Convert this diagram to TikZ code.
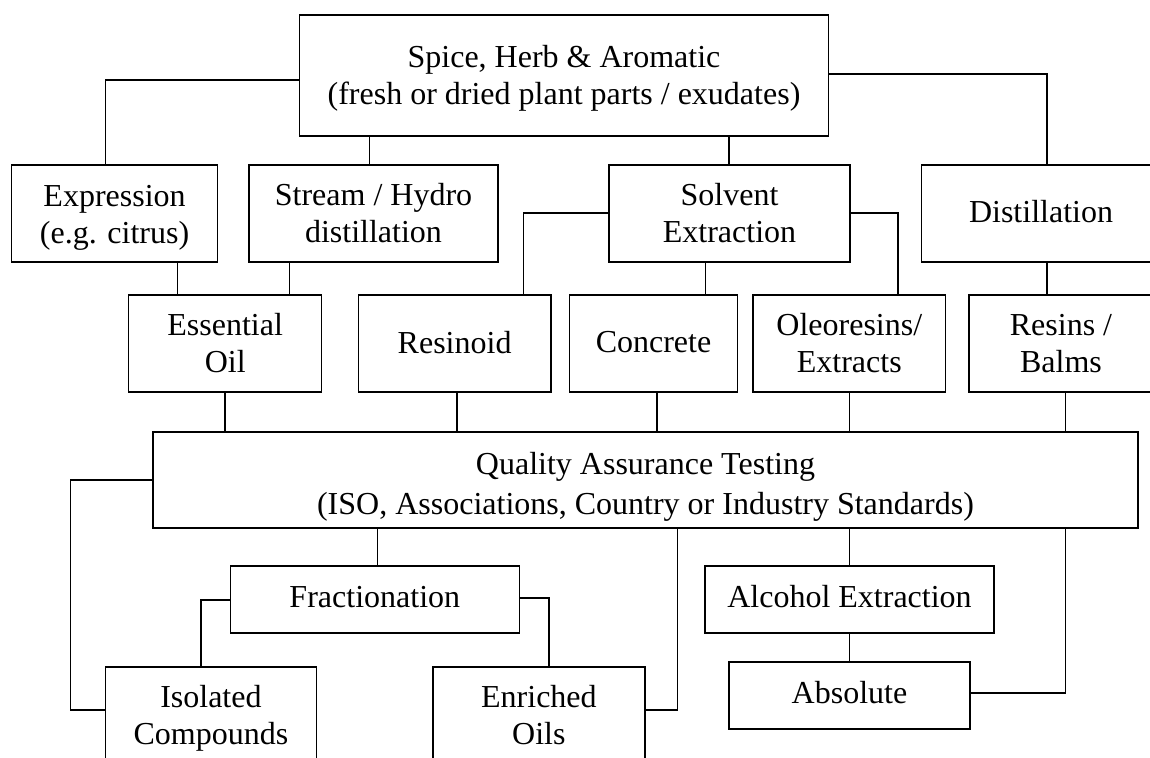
\documentclass[tikz,border=0pt]{standalone}
\usepackage{fontspec}
\setmainfont{Liberation Serif}
\newcommand{\dn}[1]{\rule[-#1]{0pt}{#1}}
\begin{document}
\begin{tikzpicture}[x=1pt, y=-1pt,
  every node/.style={font=\fontsize{32}{37}\selectfont},
  box/.style={draw, line width=1.5pt, inner sep=0pt, align=center},
  conn/.style={line width=1.2pt}]
\useasboundingbox (0,0) rectangle (1150,757);
\fill[white] (0,0) rectangle (1150,757);
\clip (0,0) rectangle (1150,757);

% boxes
\node[box, minimum width=529pt, minimum height=121pt] (top) at (564,75.5)
  {\rule{0pt}{28pt}Spice, Herb \& Aromatic\\(fresh or dried plant parts / exudates)};
\node[box, minimum width=206pt, minimum height=97pt] (expr) at (114.6,213.5)
  {\rule{0pt}{29pt}Expression\\(e.g. citrus)};
\node[box, minimum width=249pt, minimum height=97pt] (stream) at (373.5,213.5)
  {Stream / Hydro\\distillation};
\node[box, minimum width=241pt, minimum height=97pt] (solvent) at (729.5,213.5)
  {Solvent\\Extraction};
\node[box, minimum width=239pt, minimum height=97pt] (distill) at (1041,213.5)
  {Distillation\dn{4pt}};
\node[box, minimum width=193pt, minimum height=97pt] (essential) at (225.2,343.5)
  {Essential\\Oil};
\node[box, minimum width=192.5pt, minimum height=97pt] (resinoid) at (454.6,343.5)
  {Resinoid\dn{3pt}};
\node[box, minimum width=168pt, minimum height=97pt] (concrete) at (653.5,343.5)
  {Concrete\dn{4pt}};
\node[box, minimum width=192.5pt, minimum height=97pt] (oleo) at (849.3,343.5)
  {Oleoresins/\\Extracts};
\node[box, minimum width=184pt, minimum height=97pt] (resins) at (1061,343.5)
  {Resins /\\Balms};
\node[box, minimum width=985pt, minimum height=96pt, font=\fontsize{32}{40}\selectfont] (qa) at (645.5,480)
  {\rule{0pt}{35pt}Quality Assurance Testing\\(ISO, Associations, Country or Industry Standards)};
\node[box, minimum width=289pt, minimum height=67pt] (frac) at (374.8,599.5)
  {Fractionation\dn{6pt}};
\node[box, minimum width=288.6pt, minimum height=67pt] (alcohol) at (849.5,599.5)
  {Alcohol Extraction\dn{7pt}};
\node[box, minimum width=241pt, minimum height=67pt] (absolute) at (849.5,695.5)
  {Absolute\dn{7pt}};
\node[box, minimum width=211.3pt, minimum height=97pt] (isolated) at (210.9,715.5)
  {\rule{0pt}{27pt}Isolated\\Compounds};
\node[box, minimum width=211.7pt, minimum height=97pt] (enriched) at (538.9,715.5)
  {Enriched\\Oils};

% connectors
\draw[conn] (top.west |- 0,80) -| (expr.north -| 105.2,0);
\draw[conn] (top.south -| 369.3,0) -- (stream.north -| 369.3,0);
\draw[conn] (top.south -| 729,0) -- (solvent.north -| 729,0);
\draw[conn] (top.east |- 0,74) -| (distill.north -| 1047,0);
\draw[conn] (expr.south -| 177.5,0) -- (essential.north -| 177.5,0);
\draw[conn] (stream.south -| 289.3,0) -- (essential.north -| 289.3,0);
\draw[conn] (solvent.west |- 0,213) -| (resinoid.north -| 523.7,0);
\draw[conn] (solvent.south -| 705.5,0) -- (concrete.north -| 705.5,0);
\draw[conn] (solvent.east |- 0,213) -| (oleo.north -| 898,0);
\draw[conn] (distill.south -| 1047,0) -- (resins.north -| 1047,0);
\draw[conn] (essential.south -| 225,0) -- (qa.north -| 225,0);
\draw[conn] (resinoid.south -| 457,0) -- (qa.north -| 457,0);
\draw[conn] (concrete.south -| 657,0) -- (qa.north -| 657,0);
\draw[conn] (oleo.south -| 849.3,0) -- (qa.north -| 849.3,0);
\draw[conn] (resins.south -| 1065.6,0) -- (qa.north -| 1065.6,0);
\draw[conn] (qa.west) -| (70.8,710) -- (isolated.west |- 0,710);
\draw[conn] (qa.south -| 377.3,0) -- (frac.north -| 377.3,0);
\draw[conn] (frac.west |- 0,600) -| (isolated.north -| 201,0);
\draw[conn] (frac.east |- 0,598) -| (enriched.north -| 549,0);
\draw[conn] (qa.south -| 677.3,0) |- (enriched.east |- 0,710);
\draw[conn] (qa.south -| 849.3,0) -- (alcohol.north -| 849.3,0);
\draw[conn] (alcohol.south) -- (absolute.north);
\draw[conn] (absolute.east |- 0,693) -| (qa.south -| 1065.6,0);
\end{tikzpicture}
\end{document}
